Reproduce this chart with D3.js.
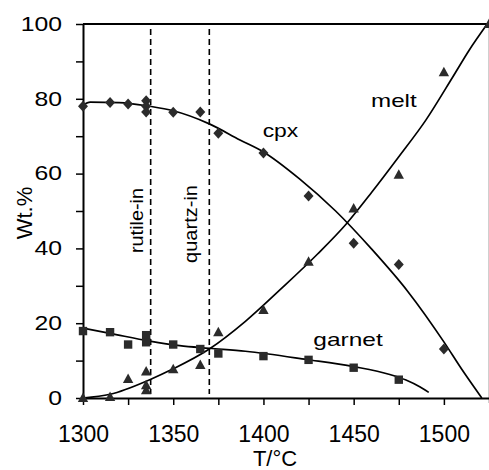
<!DOCTYPE html>
<html>
<head>
<meta charset="utf-8">
<script src="https://cdn.jsdelivr.net/npm/d3@7"></script>
<style>
	body { margin: 0; background: #fff; }
	svg text { font-family: "Liberation Sans", Arial, sans-serif; fill: #000; }
</style>
</head>
<body>
<div id="chart"></div>
<script>

// Measured points (diamonds, squares, triangles)
const cpxT   = [1300, 1315, 1325, 1335, 1335, 1335, 1350, 1365, 1375, 1400, 1425, 1450, 1475, 1500];
const cpxWt  = [78, 79, 78.6, 79.5, 78, 76.5, 76.4, 76.5, 70.8, 65.5, 54, 41.4, 35.7, 13.1];

const garnetT  = [1300, 1315, 1325, 1335, 1335, 1350, 1365, 1375, 1400, 1425, 1450, 1475];
const garnetWt = [17.9, 17.6, 14.3, 16.8, 14.9, 14.3, 13.1, 11.9, 11.2, 10.2, 8.1, 4.9];

const meltT  = [1300, 1315, 1325, 1335, 1335, 1335, 1350, 1365, 1375, 1400, 1425, 1450, 1475, 1500, 1525];
const meltWt = [0, 0.3, 5.1, 7.1, 3.4, 2.1, 7.7, 8.8, 17.6, 23.5, 36.4, 50.7, 59.7, 87.1, 100];

// Fitted curves
const cpxFitT  = [1300, 1304, 1320, 1337, 1350, 1370, 1387, 1400, 1420, 1440, 1460, 1480, 1500, 1510, 1521];
const cpxFitWt = [78.3, 79.1, 79, 78, 76.8, 73.3, 69, 65.8, 58.6, 50, 39.8, 28.5, 15, 7.6, 0];

const garnetFitT  = [1300, 1315, 1337, 1353.6, 1370, 1390, 1424, 1450, 1470, 1479, 1486.6, 1491.6];
const garnetFitWt = [18.7, 17.3, 15.2, 14, 13.3, 12.5, 10.3, 8.4, 6.3, 4.8, 3, 1.5];

const meltFitT  = [1300, 1315, 1337, 1350, 1370, 1390, 1410, 1430, 1446, 1460, 1475, 1490, 1505, 1514, 1524];
const meltFitWt = [0, 1, 4.9, 7.8, 13.1, 20.5, 29.3, 38.5, 46.6, 55, 64.5, 74.3, 85.9, 93, 100];

// Phase-in markers (dashed verticals)
const phaseIn     = [1337.5, 1370];
const phaseLabels = ["rutile-in", "quartz-in"];

// Axis ticks
const xTicks = [1300, 1325, 1350, 1375, 1400, 1425, 1450, 1475, 1500];
const yTicks = [0, 10, 20, 30, 40, 50, 60, 70, 80, 90, 100];


const svgWidth = 489, svgHeight = 470;

const scales = {
	x: d3.scaleLinear().domain([1300, 1525]).range([83, 489]),
	y: d3.scaleLinear().domain([0, 100]).range([398, 24])
};

const svg = d3.select("#chart").append("svg")
	.attr("width", svgWidth)
	.attr("height", svgHeight);

svg.append("rect").attr("width", svgWidth).attr("height", svgHeight).attr("fill", "#fff");

// faint frame edge on the right
svg.append("line")
	.attr("x1", 488.5).attr("x2", 488.5)
	.attr("y1", scales.y(100)).attr("y2", 403)
	.attr("stroke", "#cfcfcf").attr("stroke-width", 1);

// top border
svg.append("line")
	.attr("x1", scales.x(1300)).attr("x2", svgWidth)
	.attr("y1", scales.y(100)).attr("y2", scales.y(100))
	.attr("stroke", "#000").attr("stroke-width", 2);


// AXES
const xAxis = d3.axisBottom(scales.x)
	.tickValues(xTicks)
	.tickSize(7)
	.tickSizeOuter(0)
	.tickFormat(d => d % 50 === 0 ? d : "");

const gX = svg.append("g")
	.attr("class", "axis-x")
	.attr("transform", `translate(0,${scales.y(0)})`)
	.call(xAxis);

gX.select(".domain").attr("stroke-width", 2);
gX.selectAll(".tick line").attr("stroke-width", 1.5);
gX.selectAll(".tick text")
	.attr("y", 44)
	.attr("dy", 0)
	.style("font-size", "23px");

const yAxis = d3.axisLeft(scales.y)
	.tickValues(yTicks)
	.tickSize(7)
	.tickSizeOuter(0)
	.tickFormat(d => d % 20 === 0 ? d : "");

const gY = svg.append("g")
	.attr("class", "axis-y")
	.attr("transform", `translate(${scales.x(1300)},0)`)
	.call(yAxis);

gY.select(".domain").attr("stroke-width", 2);
gY.selectAll(".tick line").attr("stroke-width", 1.5);
gY.selectAll(".tick text")
	.attr("x", 0)
	.attr("dy", "0.32em")
	.attr("text-anchor", "end")
	.attr("transform", "translate(-21,0) scale(1.27,1)")
	.style("font-size", "19.5px");

// axis titles
svg.append("text")
	.attr("x", 275).attr("y", 465.5)
	.attr("text-anchor", "middle")
	.style("font-size", "22px")
	.text("T/\u00B0C");

svg.append("text")
	.attr("transform", "translate(32,213) rotate(-90)")
	.attr("text-anchor", "middle")
	.style("font-size", "22px")
	.text("Wt.%");


// DASHED phase-in lines
svg.append("g").selectAll("line")
	.data(phaseIn)
	.enter().append("line")
		.attr("x1", d => scales.x(d)).attr("x2", d => scales.x(d))
		.attr("y1", 29).attr("y2", 394)
		.attr("stroke", "#000")
		.attr("stroke-width", 1.6)
		.attr("stroke-dasharray", "6,4");

const phaseText = [
	{label: phaseLabels[0], x: 143, y: 220.5, len: 65},
	{label: phaseLabels[1], x: 197, y: 224, len: 78}
];
svg.append("g").selectAll("text")
	.data(phaseText)
	.enter().append("text")
		.attr("transform", d => `translate(${d.x},${d.y}) rotate(-90)`)
		.attr("text-anchor", "middle")
		.attr("textLength", d => d.len)
		.attr("lengthAdjust", "spacingAndGlyphs")
		.style("font-size", "19px")
		.text(d => d.label);


// FIT CURVES
const line = d3.line()
	.x(d => scales.x(d[0]))
	.y(d => scales.y(d[1]))
	.curve(d3.curveMonotoneX);

function zip(a, b){
	return a.map((v, i) => [v, b[i]]);
} // zip

const fits = [
	zip(cpxFitT, cpxFitWt),
	zip(garnetFitT, garnetFitWt),
	zip(meltFitT, meltFitWt)
];

svg.append("g").selectAll("path")
	.data(fits)
	.enter().append("path")
		.attr("d", d => line(d))
		.attr("fill", "none")
		.attr("stroke", "#000")
		.attr("stroke-width", 1.7);


// MARKERS
const markerColor = "#2b2b2b";
const shapes = {
	diamond:  "M0,-5.5L5,0L0,5.5L-5,0Z",
	square:   "M-4.2,-4.2H4.2V4.2H-4.2Z",
	triangle: "M0,-5.5L5.2,4L-5.2,4Z"
};

function drawPoints(T, Wt, shape){
	svg.append("g").selectAll("path")
		.data(zip(T, Wt))
		.enter().append("path")
			.attr("transform", d => `translate(${scales.x(d[0])},${scales.y(d[1])})`)
			.attr("d", shapes[shape])
			.attr("fill", markerColor);
} // drawPoints

drawPoints(cpxT, cpxWt, "diamond");
drawPoints(garnetT, garnetWt, "square");
drawPoints(meltT, meltWt, "triangle");


// CURVE LABELS
const curveLabels = [
	{label: "cpx",    x: 262.7, y: 136.7, len: 35.6},
	{label: "melt",   x: 371,   y: 107,   len: 45.7},
	{label: "garnet", x: 313.3, y: 346,   len: 69.4}
];
svg.append("g").selectAll("text")
	.data(curveLabels)
	.enter().append("text")
		.attr("x", d => d.x).attr("y", d => d.y)
		.attr("textLength", d => d.len)
		.attr("lengthAdjust", "spacingAndGlyphs")
		.style("font-size", "19px")
		.text(d => d.label);

</script>
</body>
</html>
